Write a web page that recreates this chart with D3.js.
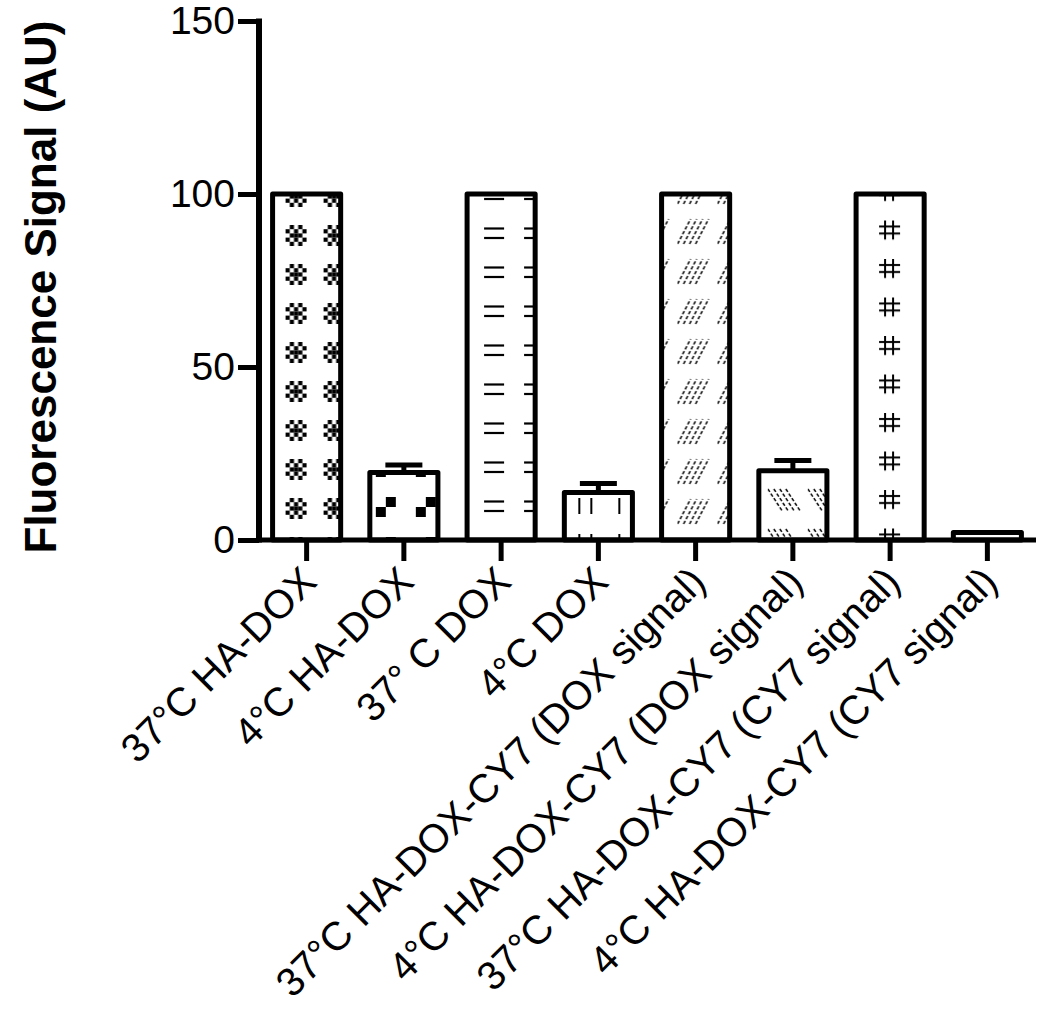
<!DOCTYPE html>
<html><head><meta charset="utf-8">
<script src="https://cdn.jsdelivr.net/npm/d3@7"></script>
<style>body{margin:0;background:#fff}svg{display:block}</style>
</head><body><svg id="c" width="1050" height="1009"></svg>
<script>
const categories = ["37°C HA-DOX", "4°C HA-DOX", "37° C DOX", "4°C DOX",
  "37°C HA-DOX-CY7 (DOX signal)", "4°C HA-DOX-CY7 (DOX signal)",
  "37°C HA-DOX-CY7 (CY7 signal)", "4°C HA-DOX-CY7 (CY7 signal)"];
const means = [100, 19.5, 100, 13.7, 100, 20.0, 100, 2.2];
const errors = [0, 2.2, 0, 2.6, 0, 3.0, 0, 0];
const yTicks = [0, 50, 100, 150];
const yTitle = "Fluorescence Signal (AU)";

const FONT = "'Liberation Sans', Arial, Helvetica, sans-serif";
const svg = d3.select("#c");
svg.append("rect").attr("width",1050).attr("height",1009).attr("fill","#fff");

const x = d3.scaleBand().domain(categories).range([258, 1036]).paddingInner(0.3).paddingOuter(0.15);
const y = d3.scaleLinear().domain([0, 150]).range([540, 21]);
const bw = x.bandwidth();

// ---- fill patterns (style only) ----
const defs = svg.append("defs");
function pat(i, dx, dy, w, h, draw) {
  const p = defs.append("pattern").attr("id", "p" + i)
    .attr("patternUnits", "userSpaceOnUse")
    .attr("x", x(categories[i]) + dx).attr("y", y(0) + dy)
    .attr("width", w).attr("height", h);
  draw(p);
}
function sq(p, a, b, s) { p.append("rect").attr("x", a).attr("y", b).attr("width", s).attr("height", s).attr("fill", "#000"); }
function ln(p, x1, y1, x2, y2, w, dash) {
  const l = p.append("line").attr("x1", x1).attr("y1", y1).attr("x2", x2).attr("y2", y2)
    .attr("stroke", "#000").attr("stroke-width", w);
  if (dash) l.attr("stroke-dasharray", dash);
}
// 0: checker flowers
pat(0, 13, -42, 38, 39, p => {
  for (let r = 0; r < 5; r++) for (let c = 0; c < 5; c++) if ((r + c) % 2 === 1 || (r === 2 && c === 2)) sq(p, c * 4.2, r * 4.2, 4.2);
});
// 1: diagonal square pairs
pat(1, 6, -43, 40, 40, p => { sq(p, 10, 0, 10); sq(p, 0, 10, 10); });
// 2: horizontal dash pairs
pat(2, 17, -40, 40, 39, p => { ln(p, 0, 1.5, 20, 1.5, 2.2); ln(p, 0, 11, 20, 11, 2.2); });
// 3: vertical dash pairs
pat(3, 14, -42, 40, 36, p => { ln(p, 1, 0, 1, 16, 2); ln(p, 13, 0, 13, 16, 2); });
// 4: forward hatch clusters
pat(4, 16, -43, 40, 40, p => {
  for (let k = 0; k < 4; k++) ln(p, k * 6, 27, 13 + k * 6, 2, 1.5, "3.5,2");
});
// 5: back hatch clusters
pat(5, 9, -53, 40, 40, p => {
  for (let k = 0; k < 4; k++) ln(p, k * 6, 2, 15 + k * 6, 25, 1.5, "3.5,2");
});
// 6: hash signs
pat(6, 22, -11.5, 80, 38.5, p => {
  ln(p, 7, 0, 7, 19, 2); ln(p, 15, 0, 15, 19, 2);
  ln(p, 1, 6, 22, 6, 2); ln(p, 1, 13, 22, 13, 2);
});
pat(7, 0, 0, 40, 40, p => {});

// ---- bars ----
svg.append("g").selectAll("rect").data(categories).join("rect")
  .attr("x", d => x(d)).attr("y", (d, i) => y(means[i]))
  .attr("width", bw).attr("height", (d, i) => y(0) - y(means[i]))
  .attr("fill", (d, i) => `url(#p${i})`)
  .attr("stroke", "#000").attr("stroke-width", 5).attr("stroke-linejoin", "round");

// ---- error bars ----
const eb = svg.append("g").attr("stroke", "#000").attr("stroke-width", 5);
categories.forEach((c, i) => {
  if (!errors[i]) return;
  const cx = x(c) + bw / 2;
  eb.append("line").attr("x1", cx).attr("x2", cx).attr("y1", y(means[i])).attr("y2", y(means[i] + errors[i]));
  eb.append("line").attr("x1", cx - 18.5).attr("x2", cx + 18.5).attr("y1", y(means[i] + errors[i])).attr("y2", y(means[i] + errors[i]));
});

// ---- axes ----
const gx = svg.append("g").attr("transform", `translate(0,${y(0)})`)
  .call(d3.axisBottom(x).tickSize(21).tickSizeOuter(0).tickPadding(0));
gx.select(".domain").attr("stroke", "#000").attr("stroke-width", 5).attr("d", "M256,0H1036");
gx.selectAll(".tick line").attr("stroke", "#000").attr("stroke-width", 5);
gx.selectAll(".tick text")
  .attr("font-family", FONT).attr("font-size", 40).attr("fill", "#000")
  .attr("text-anchor", "end").attr("y", 0).attr("dy", 0)
  .attr("transform", "translate(12,44) rotate(-45)");

const gy = svg.append("g").attr("transform", `translate(259,0)`)
  .call(d3.axisLeft(y).tickValues(yTicks).tickSize(21).tickSizeOuter(0).tickPadding(3));
gy.select(".domain").attr("stroke", "#000").attr("stroke-width", 6).attr("d", `M0,${y(150) - 2.5}V${y(0) + 2.5}`);
gy.selectAll(".tick line").attr("stroke", "#000").attr("stroke-width", 5);
gy.selectAll(".tick text").attr("font-family", FONT).attr("font-size", 39).attr("fill", "#000");

svg.append("text").text(yTitle)
  .attr("transform", `translate(56,287) rotate(-90)`)
  .attr("text-anchor", "middle").attr("font-family", FONT)
  .attr("font-weight", "bold").attr("font-size", 44).attr("fill", "#000");
</script></body></html>
